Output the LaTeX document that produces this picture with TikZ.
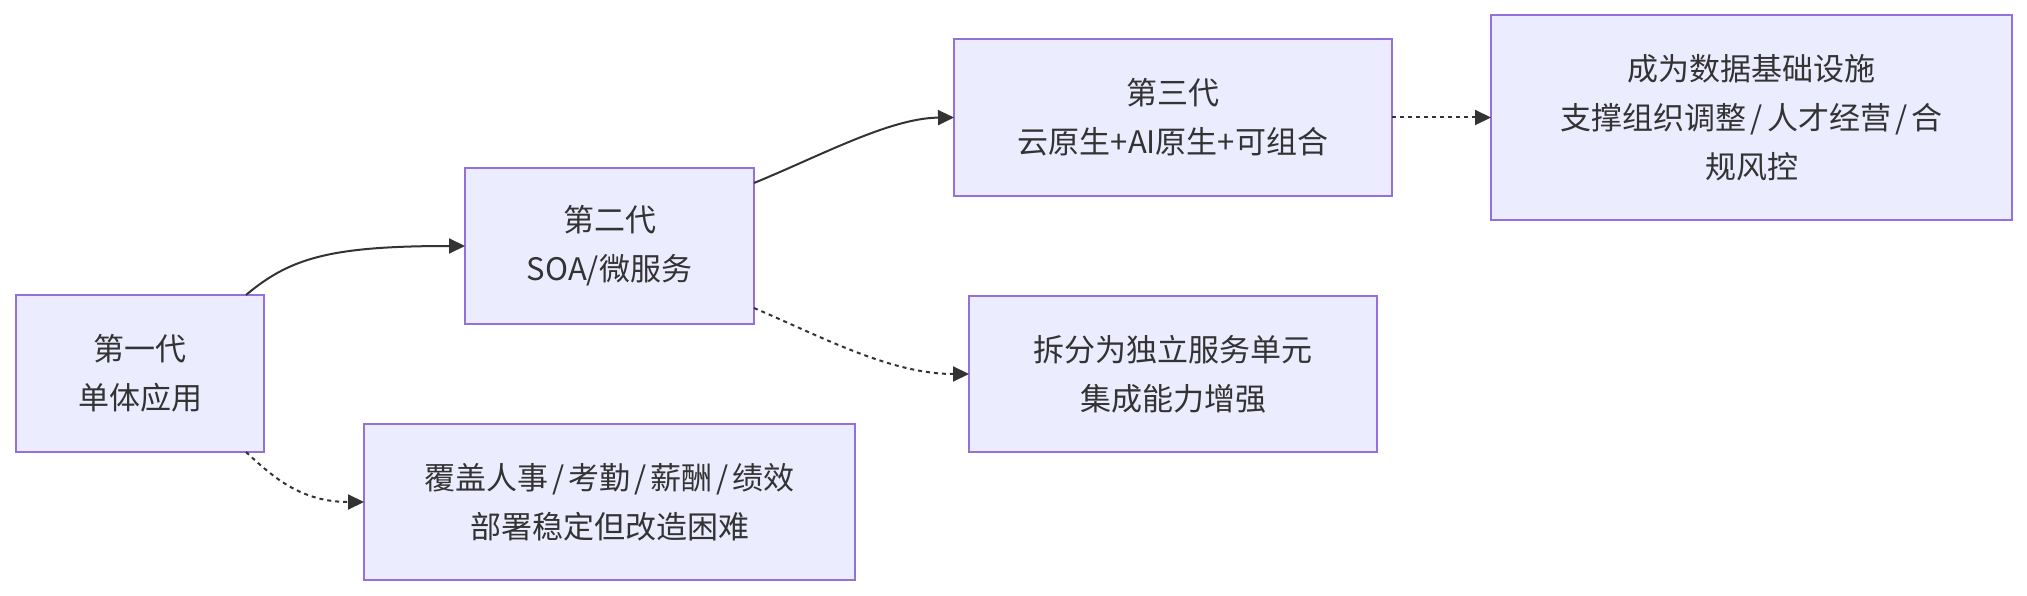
\documentclass[tikz,border=0pt]{standalone}
\usepackage{fontspec}
\setmainfont{Noto Sans CJK SC}
\usetikzlibrary{arrows.meta,calc}
\definecolor{boxfill}{HTML}{ECECFF}
\definecolor{boxline}{HTML}{9370DB}
\definecolor{ink}{HTML}{333333}
\newcommand{\wslash}{\hspace{4pt}/\hspace{4pt}}
\begin{document}
\begin{tikzpicture}[x=1pt,y=-1pt,
  box/.style={draw=boxline, fill=boxfill, line width=2pt, text=ink, align=center,
    font=\fontsize{31}{49}\selectfont, inner sep=0pt, outer sep=0pt},
  link/.style={draw=ink, line width=2pt, -{Triangle[length=16pt,width=15pt]}},
  dotlink/.style={link, dash pattern=on 4pt off 4pt}]
\useasboundingbox (0,0) rectangle (2027,596);
\node[box, minimum width=248pt, minimum height=157pt] (b1) at (140,373.5) {第一代\\单体应用};
\node[box, minimum width=491pt, minimum height=156pt] (b2) at (609.5,502) {覆盖人事\wslash 考勤\wslash 薪酬\wslash 绩效\\部署稳定但改造困难};
\node[box, minimum width=289pt, minimum height=156pt] (b3) at (609.5,246) {第二代\\SOA/微服务};
\node[box, minimum width=408pt, minimum height=156pt] (b4) at (1173,374) {拆分为独立服务单元\\集成能力增强};
\node[box, minimum width=438pt, minimum height=157pt] (b5) at (1173,117.5) {第三代\\云原生+AI原生+可组合};
\node[box, minimum width=521pt, minimum height=205pt] (b6) at (1751.5,117.5) {成为数据基础设施\\支撑组织调整\wslash 人才经营\wslash 合\\规风控};
\draw[link] ([xshift=-18pt]b1.north east) .. controls (290,258) and (330,246) .. (b3.west);
\draw[dotlink] ([xshift=-18pt]b1.south east) .. controls (272,476) and (300,502) .. (b2.west);
\draw[link] ([yshift=-15pt]b3.north east) .. controls (820,156) and (890,118) .. (b5.west);
\draw[dotlink] ([yshift=16pt]b3.south east) .. controls (820,336) and (890,374) .. (b4.west);
\draw[dotlink] (b5.east) -- (b6.west);
\end{tikzpicture}
\end{document}
